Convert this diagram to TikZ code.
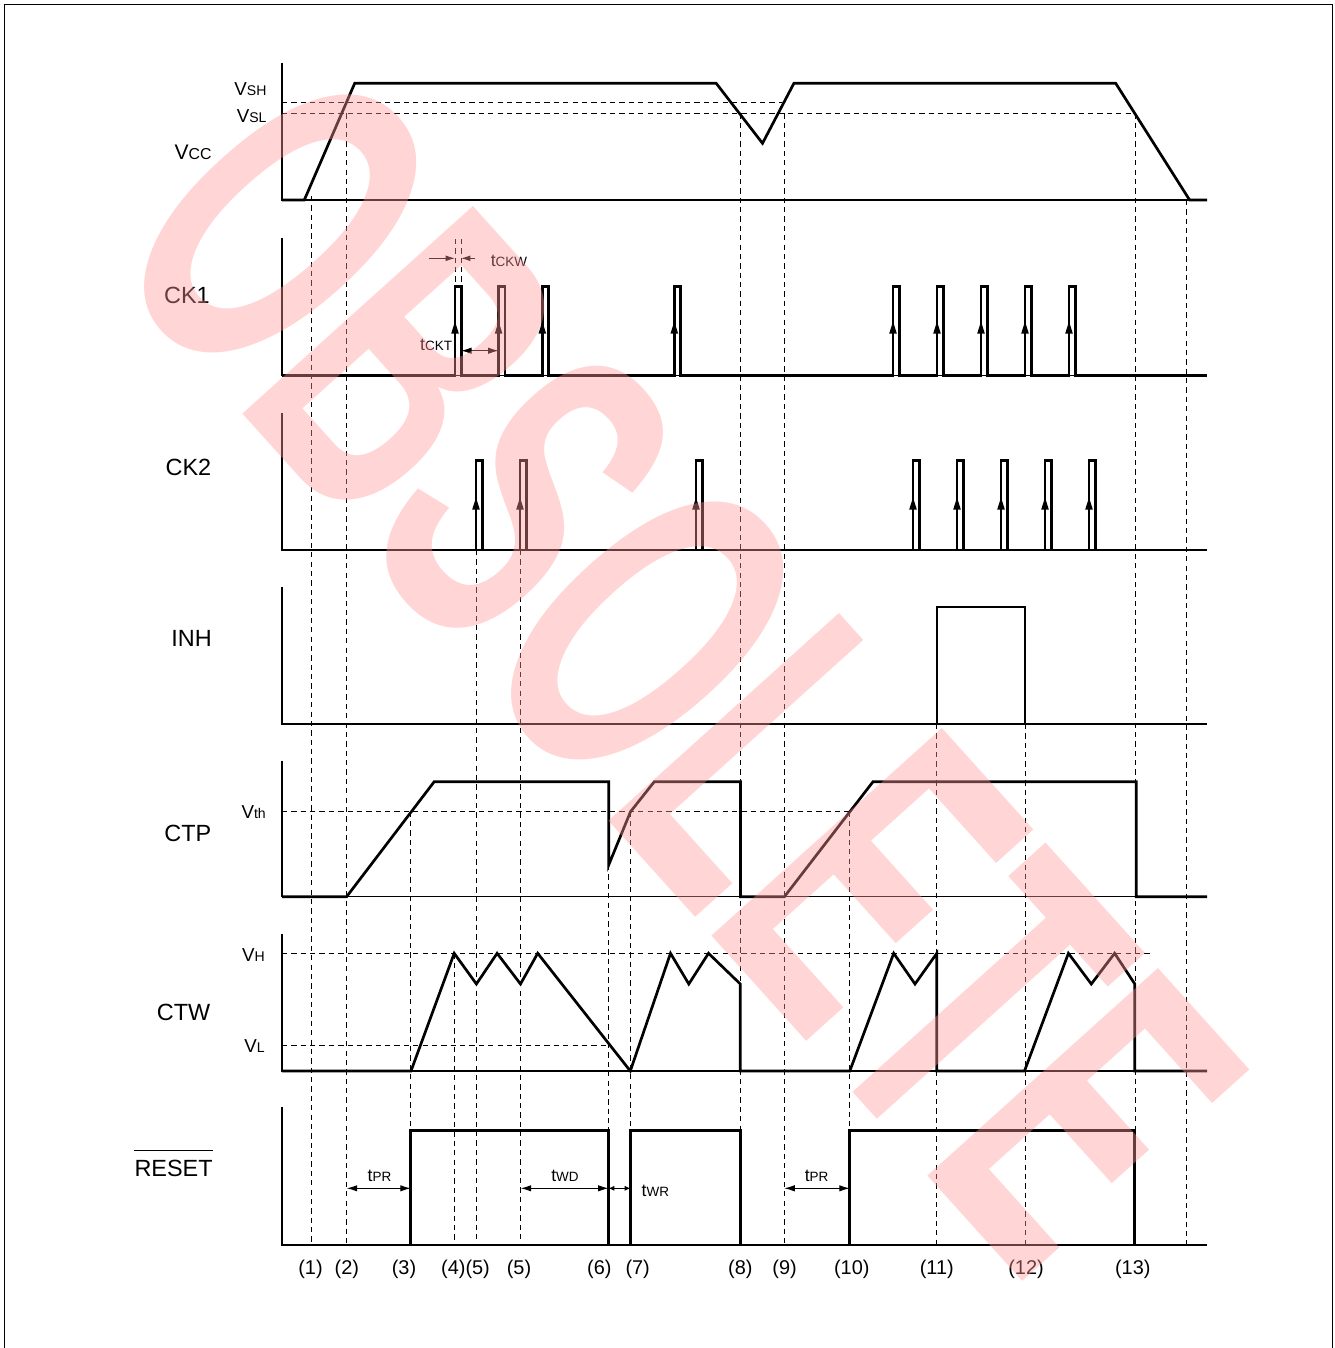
\documentclass[tikz,border=0pt]{standalone}
\usepackage{fontspec}
\setmainfont{Liberation Sans}
\usetikzlibrary{arrows.meta}
\definecolor{wmcol}{RGB}{255,150,150}
\newcommand\sigfont{\fontsize{20}{20}\selectfont}
\newcommand\vlab[2]{{\fontsize{16}{16}\selectfont #1}{\fontsize{12}{12}\selectfont #2}}
\newcommand\tlab[1]{{\fontsize{15}{15}\selectfont t}{\fontsize{11.5}{11.5}\selectfont #1}}
\newcommand\numfont{\fontsize{17}{17}\selectfont}
\begin{document}
\begin{tikzpicture}[x=0.03cm,y=-0.03cm,
  axisline/.style={line width=1.1pt},
  wave/.style={line width=2.3pt},
  guide/.style={line width=0.8pt,dash pattern=on 4.5pt off 3.5pt},
  dimline/.style={line width=0.9pt,{Latex[length=9pt,width=5.5pt]}-{Latex[length=9pt,width=5.5pt]}},
  dimsmall/.style={line width=0.9pt,{Latex[length=5pt,width=4.5pt]}-{Latex[length=5pt,width=4.5pt]}},
  dimone/.style={line width=0.9pt,-{Latex[length=8pt,width=5pt]}},
  siglab/.style={anchor=base east,inner sep=0pt,font=\sigfont},
  lvllab/.style={anchor=base east,inner sep=0pt},
  tlabel/.style={anchor=base,inner sep=0pt},
  numlab/.style={anchor=base,inner sep=0pt,font=\numfont},
  wm/.style={inner sep=0pt,text=wmcol,text opacity=0.4,font=\fontsize{385}{385}\selectfont\bfseries}
]
\useasboundingbox (0,0) rectangle (1334,1348);
% frame
\draw[line width=0.8pt] (4,1348) -- (4,4) -- (1332,4) -- (1332,1348);

% ---------- guide lines ----------
\draw[guide] (282,102.3) -- (782,102.3);
\draw[guide] (282,113.3) -- (1135,113.3);
\draw[guide] (282,811.7) -- (849.8,811.7);
\draw[guide] (282,953.3) -- (1151,953.3);
\draw[guide] (282,1045.7) -- (608.6,1045.7);
\foreach \x/\ys in {311/196, 346.7/113.3, 410.8/811.7, 454.4/953.3, 476.3/550, 520.6/550,
  608.6/865, 630.4/811.7, 740.3/113.3, 784.2/113.3, 849.8/811.7, 936.8/724, 1025/724,
  1135/113.3, 1186/200}
  \draw[guide] (\x,\ys) -- (\x,1245);
\draw[guide] (455,239) -- (455,286.7);
\draw[guide] (461,239) -- (461,286.7);

% ---------- axes ----------
\foreach \t/\b in {63/200, 238.3/375.7, 413.3/550, 587/724, 760.7/896.7, 934/1071, 1107.3/1245}
  \draw[axisline] (282,\t) -- (282,\b) -- (1207,\b);

% ---------- waveforms ----------
% VCC
\draw[wave] (282,200) -- (304.3,200) -- (354.7,83.3) -- (716.2,83.3) -- (762.5,143.3)
  -- (793.9,83.3) -- (1115.7,83.3) -- (1189.6,200) -- (1207,200);
% CK1
\draw[wave] (282,375.7) \foreach \x in {455,498.6,542.3,674.3,893,937,981,1025,1069}
  { -- (\x,375.7) -- (\x,286.7) -- (\x+6.5,286.7) -- (\x+6.5,375.7) } -- (1207,375.7);
\foreach \x in {455,498.6,542.3,674.3,893,937,981,1025,1069}
  \fill (\x,321.5) -- ++(-3.8,12) -- ++(7.6,0) -- cycle;
% CK2
\draw[wave] (282,550) \foreach \x in {476,520,696,913,957,1001,1045,1089}
  { -- (\x,550) -- (\x,460.7) -- (\x+6.5,460.7) -- (\x+6.5,550) } -- (1207,550);
\foreach \x in {476,520,696,913,957,1001,1045,1089}
  \fill (\x,497.5) -- ++(-3.8,12) -- ++(7.6,0) -- cycle;
% INH
\draw[wave] (282,724) -- (937,724) -- (937,607) -- (1025,607) -- (1025,724) -- (1207,724);
% CTP
\draw[wave] (282,896.7) -- (346.6,896.7) -- (434.2,781.7) -- (608.7,781.7) -- (608.7,865)
  -- (630.5,811.7) -- (654.3,781.7) -- (740.4,781.7) -- (740.4,896.7) -- (784.4,896.7)
  -- (873,781.7) -- (1136.3,781.7) -- (1136.3,896.7) -- (1207,896.7);
% CTW
\draw[wave] (282,1071) -- (411,1071) -- (454.2,953.3) -- (476.4,984) -- (497.1,953.3)
  -- (520.5,984) -- (537.7,953.3) -- (630.3,1071) -- (670.5,953.3) -- (688.8,984)
  -- (708.5,953.3) -- (740.3,984) -- (740.3,1071) -- (849.8,1071) -- (893.7,953.3)
  -- (915,984) -- (936.8,953.3) -- (936.8,1071) -- (1024.5,1071) -- (1068.4,953.3)
  -- (1091.3,984) -- (1114.6,953.3) -- (1134.8,984) -- (1134.8,1071) -- (1207,1071);
% RESET
\draw[wave] (282,1245) -- (410.8,1245) -- (410.8,1130.7) -- (608.6,1130.7) -- (608.6,1245)
  -- (630.4,1245) -- (630.4,1130.7) -- (740.3,1130.7) -- (740.3,1245) -- (849.8,1245)
  -- (849.8,1130.7) -- (1134.8,1130.7) -- (1134.8,1245) -- (1207,1245);

% ---------- timing dimensions ----------
\draw[dimone] (429.4,258.3) -- (455,258.3);
\draw[dimone] (475.3,258.3) -- (461,258.3);
\draw[dimline] (461,350.7) -- (498.6,350.7);
\draw[dimline] (346.7,1188.3) -- (410.8,1188.3);
\draw[dimline] (520.6,1188.3) -- (608.6,1188.3);
\draw[dimsmall] (608.6,1188.3) -- (630.4,1188.3);
\draw[dimline] (784.2,1188.3) -- (849.8,1188.3);

% ---------- labels ----------
\node[siglab] (lvcc) at (211.7,159.3) {{\fontsize{18}{18}\selectfont V}{\fontsize{13.5}{13.5}\selectfont CC}};
\node[lvllab] (lvsh) at (266.7,95.5) {\vlab{V}{SH}};
\node[lvllab] (lvsl) at (266.7,122.5) {\vlab{V}{SL}};
\node[siglab] (lck1) at (210,303.3) {CK1};
\node[siglab] (lck2) at (211.5,475) {CK2};
\node[siglab] (linh) at (212,646.5) {INH};
\node[siglab] (lctp) at (211.5,841.5) {CTP};
\node[lvllab] (lvth) at (266,818.3) {\vlab{V}{th}};
\node[siglab] (lctw) at (210.5,1020) {CTW};
\node[lvllab] (lvh) at (265,961.7) {\vlab{V}{H}};
\node[lvllab] (lvl) at (265,1052.7) {\vlab{V}{L}};
\node[siglab] (lreset) at (212.9,1176) {RESET};
\draw[line width=0.9pt] ([yshift=8pt]lreset.north west) -- ([yshift=8pt]lreset.north east);

\node[tlabel,anchor=base west] (ltckw) at (490.6,266) {\tlab{CKW}};
\node[tlabel,anchor=base east] (ltckt) at (452.3,350.7) {\tlab{CKT}};
\node[tlabel] (ltpr1) at (379.5,1181.7) {\tlab{PR}};
\node[tlabel] (ltwd) at (565,1181.7) {\tlab{WD}};
\node[tlabel,anchor=base west] (ltwr) at (641.5,1196) {\tlab{WR}};
\node[tlabel] (ltpr2) at (816.6,1181.7) {\tlab{PR}};

\foreach \x/\s [count=\i] in {310.5/(1), 346.8/(2), 404/(3), 465.5/(4)(5), 519/(5), 599.4/(6),
  637.7/(7), 740.3/(8), 784.6/(9), 851.8/(10), 936.8/(11), 1026/(12), 1132.8/(13)}
  \node[numlab] (n\i) at (\x,1274) {\s};

% ---------- watermark ----------
\node[wm,rotate=-48,xscale=0.56] (obsolete) at (680,668) {OBSOLETE};
\end{tikzpicture}
\end{document}
